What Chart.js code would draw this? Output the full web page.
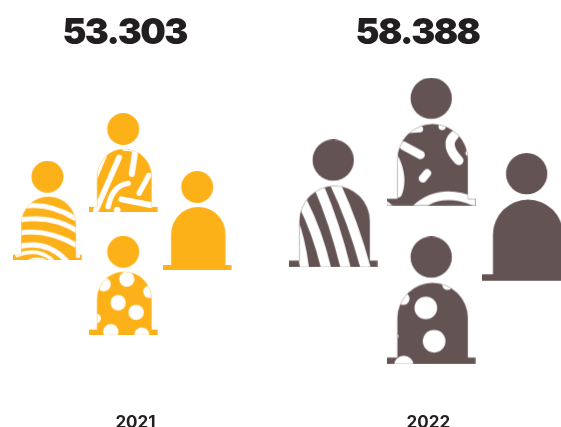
<!DOCTYPE html>
<html>
<head>
<meta charset="utf-8">
<style>
  html, body { margin: 0; padding: 0; background: #fff; }
  canvas { display: block; }
</style>
<script src="https://cdn.jsdelivr.net/npm/chart.js@4"></script>
</head>
<body>
<canvas id="chart" width="561" height="427"></canvas>
<script>
// Yearly totals and their labels
const years = ['2021', '2022'];
const totals = [53.303, 58.388];
const yearTicks = [24.15, 76.35];

// Figure placement on the 0-100 chart scales
const figuresX2021 = [8.47, 21.98, 35.17, 21.98];
const figuresY2021 = [47.84, 59.68, 45.29, 29.23];
const figuresX2022 = [59.41, 76.88, 93.89, 76.88];
const figuresY2022 = [49.53, 64.86, 46.15, 25.46];

const AMBER = '#fdb119';
const UMBER = '#645353';
const INK = '#231f20';

// Garment decorations, sketched at 3x with a per-figure origin.
// Circles: [x, y, r]. Lines: [width, x0, y0, x1, y1]. Curves: [width, x0, y0, cx, cy, x1, y1].
const garments = {
  waves: { ox: 10, oy: -88, circles: [[205, 197, 7]], marks: [
    [15, 45, 48, 120, 38, 195, 84],
    [15, 28, 90, 130, 73, 210, 127],
    [15, 25, 130, 110, 113, 205, 168],
    [15, 25, 170, 110, 148, 170, 212],
    [11, 22, 196, 85, 170, 130, 212],
    [7, 55, 212, 85, 198, 115, 214]
  ] },
  doodle: { ox: 267, oy: 39, circles: [[352, 330, 10]], marks: [
    [17, 358, 172, 288, 332],
    [18, 406, 155, 396, 222],
    [16, 447, 226, 418, 280],
    [16, 385, 250, 338, 256, 325, 320],
    [18, 365, 298, 452, 315],
    [12, 316, 166, 286, 236],
    [9, 372, 148, 398, 150]
  ] },
  spots: { ox: 267, oy: 407, circles: [
    [381, 537, 23], [312, 553, 21], [355, 608, 23], [409, 637, 23],
    [333, 695, 23], [426, 705, 23], [449, 575, 19], [288, 655, 15]
  ], marks: [] },
  bars: { ox: 12, oy: -121.5, circles: [], marks: [
    [30, 150, 10, 205, 125, 244, 270],
    [30, 100, 15, 150, 130, 184, 270],
    [30, 52, 65, 100, 160, 125, 270],
    [27, 25, 120, 48, 175, 60, 270]
  ] },
  blots: { ox: 6, oy: -126.6, circles: [[172, 20, 11], [250, 100, 8]], marks: [
    [26, 57, 78, 107, 105],
    [28, 208, 47, 178, 75, 222, 122],
    [24, 114, 176, 127, 160],
    [28, 30, 120, 55, 175, 38, 220],
    [20, 105, 28, 70, 30],
    [26, 90, 270, 165, 199, 275, 248],
    [12, -4, 243, 30, 270]
  ] },
  rounds: { ox: 6, oy: -124.5, circles: [
    [123, 90, 34], [148, 190, 34], [57, 262, 29], [188, 20, 16],
    [55, 62, 19], [33, 175, 8], [150, 10, 6]
  ], marks: [] }
};

// Outline of the seated figure: head above an arched body on a thin base
function bodyPath(ctx, s) {
  const left = 8.3 * s, right = 62.7 * s, r = (right - left) / 2;
  const top = 36 * s, foot = 94 * s;
  ctx.beginPath();
  ctx.moveTo(left, foot);
  ctx.lineTo(left, top + r);
  ctx.arc(left + r, top + r, r, Math.PI, 0);
  ctx.lineTo(right, foot);
  ctx.lineTo(68.6 * s, foot);
  ctx.lineTo(68.6 * s, 99 * s);
  ctx.lineTo(0, 99 * s);
  ctx.lineTo(0, foot);
  ctx.closePath();
}

function figureIcon(color, s, garment) {
  const icon = document.createElement('canvas');
  icon.width = Math.ceil(68.6 * s);
  icon.height = Math.ceil(99 * s);
  const ctx = icon.getContext('2d');
  ctx.fillStyle = color;
  ctx.beginPath();
  ctx.arc(34.4 * s, 16 * s, 16 * s, 0, Math.PI * 2);
  ctx.fill();
  bodyPath(ctx, s);
  ctx.fill();
  if (garment) {
    ctx.save();
    bodyPath(ctx, s);
    ctx.clip();
    ctx.translate(-garment.ox / 3, -garment.oy / 3);
    ctx.scale(1 / 3, 1 / 3);
    ctx.fillStyle = '#fff';
    ctx.strokeStyle = '#fff';
    ctx.lineCap = 'round';
    garment.circles.forEach(([x, y, r]) => {
      ctx.beginPath();
      ctx.arc(x, y, r, 0, Math.PI * 2);
      ctx.fill();
    });
    garment.marks.forEach(m => {
      ctx.lineWidth = m[0];
      ctx.beginPath();
      ctx.moveTo(m[1], m[2]);
      if (m.length === 5) ctx.lineTo(m[3], m[4]);
      else ctx.quadraticCurveTo(m[3], m[4], m[5], m[6]);
      ctx.stroke();
    });
    ctx.restore();
    // Faint contour that keeps the silhouette readable across the white marks
    ctx.globalAlpha = 0.35;
    ctx.strokeStyle = color;
    ctx.lineWidth = 0.7;
    bodyPath(ctx, s);
    ctx.stroke();
    ctx.globalAlpha = 1;
  }
  return icon;
}

const SCALE_2021 = 1;
const SCALE_2022 = 1.291;
const icons2021 = [
  figureIcon(AMBER, SCALE_2021, garments.waves),
  figureIcon(AMBER, SCALE_2021, garments.doodle),
  figureIcon(AMBER, SCALE_2021, null),
  figureIcon(AMBER, SCALE_2021, garments.spots)
];
const icons2022 = [
  figureIcon(UMBER, SCALE_2022, garments.bars),
  figureIcon(UMBER, SCALE_2022, garments.blots),
  figureIcon(UMBER, SCALE_2022, null),
  figureIcon(UMBER, SCALE_2022, garments.rounds)
];

const toPoints = (xs, ys) => xs.map((x, i) => ({ x, y: ys[i] }));

// Big totals above each year's group of figures
const totalsPlugin = {
  id: 'totals',
  afterDatasetsDraw(chart) {
    const { ctx, scales } = chart;
    ctx.save();
    ctx.font = '900 36px Inter, sans-serif';
    ctx.letterSpacing = '-1.6px';
    ctx.fillStyle = INK;
    ctx.textAlign = 'center';
    ctx.textBaseline = 'alphabetic';
    totals.forEach((value, i) => {
      ctx.fillText(value.toFixed(3), scales.x.getPixelForValue(yearTicks[i]) - 10.9, chart.chartArea.top + 44);
    });
    ctx.restore();
  }
};

new Chart(document.getElementById('chart'), {
  type: 'scatter',
  data: {
    datasets: [
      { label: years[0], data: toPoints(figuresX2021, figuresY2021), pointStyle: icons2021, pointRadius: 30, clip: false },
      { label: years[1], data: toPoints(figuresX2022, figuresY2022), pointStyle: icons2022, pointRadius: 30, clip: false }
    ]
  },
  options: {
    responsive: false,
    animation: false,
    layout: { padding: 0, autoPadding: false },
    plugins: { legend: { display: false }, tooltip: { enabled: false } },
    scales: {
      x: {
        type: 'linear',
        min: 0,
        max: 100,
        grid: { display: false },
        border: { display: false },
        afterBuildTicks(scale) { scale.ticks = yearTicks.map(value => ({ value })); },
        afterFit(scale) { scale.height = 24; },
        ticks: {
          autoSkip: false,
          maxRotation: 0,
          padding: 2,
          color: INK,
          font: { family: 'Inter, sans-serif', size: 17, weight: '700' },
          callback(value) { return years[yearTicks.indexOf(value)]; }
        }
      },
      y: { display: false, min: 0, max: 100 }
    }
  },
  plugins: [totalsPlugin]
});
</script>
</body>
</html>
